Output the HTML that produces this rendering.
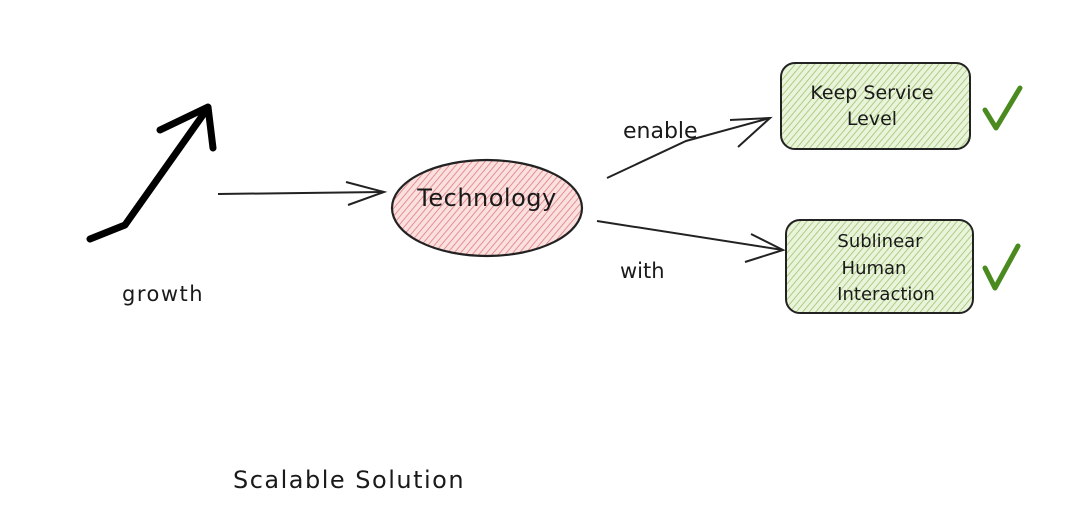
<!DOCTYPE html>
<html><head><style>
html,body{margin:0;padding:0;background:#fff;}
svg{display:block}
text{font-family:"Comic Sans MS","DejaVu Sans",sans-serif;fill:#1a1a1a}
</style></head><body>
<svg width="1080" height="523" viewBox="0 0 1080 523" xmlns="http://www.w3.org/2000/svg">
<defs>
<pattern id="hr" width="5" height="5" patternUnits="userSpaceOnUse" patternTransform="rotate(40)">
<rect width="5" height="5" fill="#fbe0e0"/><line x1="0" y1="0" x2="0" y2="5" stroke="#e07c7c" stroke-width="1.6"/></pattern>
<pattern id="hg" width="5" height="5" patternUnits="userSpaceOnUse" patternTransform="rotate(40)">
<rect width="5" height="5" fill="#eaf4da"/><line x1="0" y1="0" x2="0" y2="5" stroke="#9cc472" stroke-width="1.6"/></pattern>
</defs>
<rect width="1080" height="523" fill="#fff"/>
<path d="M90 239 L125 225 L205 112" stroke="#000" stroke-width="7" fill="none" stroke-linecap="round" stroke-linejoin="round"/>
<path d="M160 130 L208 107 L213 148" stroke="#000" stroke-width="7" fill="none" stroke-linecap="round" stroke-linejoin="round"/>
<text x="122" y="301" font-size="21" letter-spacing="1.5">growth</text>
<path d="M218 194 L384 192" stroke="#222" stroke-width="2" fill="none"/>
<path d="M346 182 L384 192 L348 205" stroke="#222" stroke-width="2" fill="none"/>
<ellipse cx="487" cy="208" rx="95" ry="48" fill="url(#hr)" stroke="#222" stroke-width="2.2"/>
<text x="487" y="206" font-size="24" text-anchor="middle" letter-spacing="0.5">Technology</text>
<path d="M607 178 L686 141 L770 118" stroke="#222" stroke-width="2" fill="none"/>
<path d="M730 120 L770 118 L738 147" stroke="#222" stroke-width="2" fill="none"/>
<text x="623" y="138" font-size="22">enable</text>
<path d="M597 221 L783 250" stroke="#222" stroke-width="2" fill="none"/>
<path d="M751 234 L783 250 L745 262" stroke="#222" stroke-width="2" fill="none"/>
<text x="620" y="278" font-size="21">with</text>
<rect x="781" y="63" width="189" height="86" rx="14" fill="url(#hg)" stroke="#222" stroke-width="2"/>
<text x="872" y="99" font-size="19" text-anchor="middle">Keep Service</text>
<text x="872" y="125" font-size="19" text-anchor="middle">Level</text>
<rect x="786" y="220" width="187" height="93" rx="14" fill="url(#hg)" stroke="#222" stroke-width="2"/>
<text x="880" y="247" font-size="18" text-anchor="middle">Sublinear</text>
<text x="874" y="274" font-size="18" text-anchor="middle">Human</text>
<text x="886" y="300" font-size="18" text-anchor="middle">Interaction</text>
<path d="M985 110 L996 128 L1020 88" stroke="#4a8a1e" stroke-width="5" fill="none" stroke-linecap="round" stroke-linejoin="round"/>
<path d="M985 268 L995 288 L1018 246" stroke="#4a8a1e" stroke-width="5" fill="none" stroke-linecap="round" stroke-linejoin="round"/>
<text x="233" y="488" font-size="24" letter-spacing="1.5">Scalable Solution</text>
</svg>
</body></html>
